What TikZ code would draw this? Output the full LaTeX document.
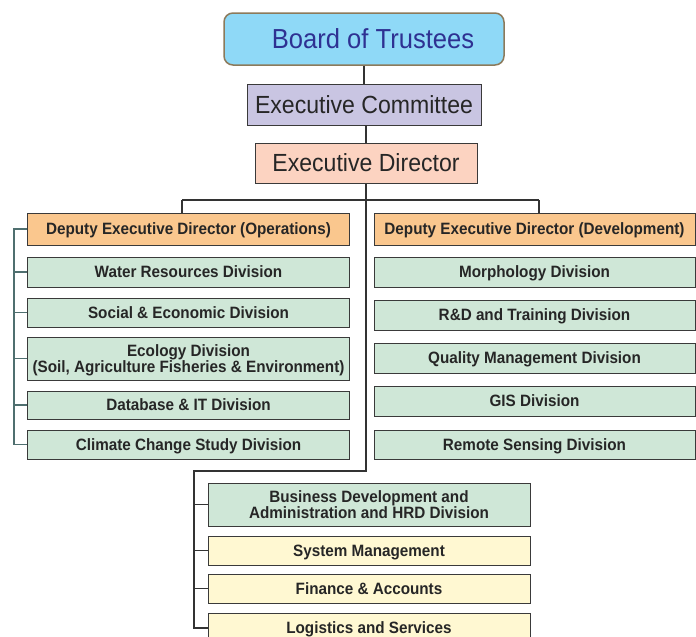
\documentclass[tikz,border=0pt]{standalone}
\usepackage{fontspec}
\setmainfont[FakeStretch=0.93]{Liberation Sans}
\definecolor{trusteefill}{HTML}{8FD9F7}
\definecolor{trusteeline}{HTML}{8C7A5B}
\definecolor{trusteetext}{HTML}{2E3192}
\definecolor{committeefill}{HTML}{C9C5E2}
\definecolor{directorfill}{HTML}{FCD3C1}
\definecolor{deputyfill}{HTML}{FAC78E}
\definecolor{divisionfill}{HTML}{CFE7D7}
\definecolor{servicefill}{HTML}{FFF8D2}
\definecolor{boxline}{HTML}{3A3A3A}
\definecolor{bracketline}{HTML}{4F6F6F}

\begin{document}
\begin{tikzpicture}[x=1pt, y=-1pt, line width=1pt,
		topbox/.style={draw=boxline, text=black!85, inner sep=0pt,
			text height=17.8pt, text depth=0pt, font=\fontsize{24.8}{27}\selectfont},
		unitbox/.style={draw=boxline, text=black!85, inner sep=0pt, align=center,
			text height=11.8pt, text depth=0pt,
			minimum width=322pt, font=\fontsize{16.4}{16.4}\selectfont\bfseries},
		twoline/.style={text height=28.2pt, minimum height=43pt},
		division/.style={unitbox, fill=divisionfill, minimum height=29pt},
		service/.style={unitbox, fill=servicefill, minimum height=29pt},
		deputy/.style={unitbox, fill=deputyfill, minimum height=32pt},
		trunk/.style={draw=black!80, line width=1.2pt},
		bracket/.style={draw=bracketline, line width=1.2pt}]
	\useasboundingbox (0,0) rectangle (696,637);

	% top of the chart
	\node[topbox, draw=trusteeline, line width=1.5pt, fill=trusteefill, text=trusteetext,
		rounded corners=9pt, minimum width=280pt, minimum height=52pt, text height=19.7pt,
		font=\fontsize{27.5}{30}\selectfont] (board) at (364, 39) {\hspace*{18pt}Board of Trustees};
	\node[topbox, fill=committeefill, minimum width=234pt, minimum height=41pt] (committee) at (364, 104.5) {Executive Committee};
	\node[topbox, fill=directorfill, minimum width=222pt, minimum height=40pt] (director) at (366, 163) {Executive Director};

	% operations
	\node[deputy] (operations) at (188.5, 229) {Deputy Executive Director (Operations)};
	\node[division, minimum height=30pt] (water) at (188.5, 272) {Water Resources Division};
	\node[division] (social) at (188.5, 312.5) {Social \& Economic Division};
	\node[division, twoline] (ecology) at (188.5, 358.5) {Ecology Division\\(Soil, Agriculture Fisheries \& Environment)};
	\node[division, minimum height=28pt] (database) at (188.5, 405) {Database \& IT Division};
	\node[division] (climate) at (188.5, 444.5) {Climate Change Study Division};

	% development
	\node[deputy, minimum width=321pt] (development) at (534.5, 229) {Deputy Executive Director (Development)};
	\node[division, minimum width=321pt, minimum height=30pt] (morphology) at (534.5, 272) {Morphology Division};
	\node[division, minimum width=321pt, minimum height=30pt] (training) at (534.5, 315) {R\&D and Training Division};
	\node[division, minimum width=321pt, minimum height=30pt] (quality) at (534.5, 358) {Quality Management Division};
	\node[division, minimum width=321pt, minimum height=30pt] (gis) at (534.5, 401) {GIS Division};
	\node[division, minimum width=321pt] (remote) at (534.5, 444.5) {Remote Sensing Division};

	% services
	\node[division, twoline] (business) at (369, 504.5) {Business Development and\\Administration and HRD Division};
	\node[service] (system) at (369, 550.5) {System Management};
	\node[service] (finance) at (369, 588.5) {Finance \& Accounts};
	\node[service, minimum height=30pt] (logistics) at (369, 628) {Logistics and Services};

	% connectors
	\coordinate (split) at (366, 200);
	\coordinate (leftend) at (182, 200);
	\coordinate (rightend) at (539, 200);
	\coordinate (turn) at (366, 471);
	\coordinate (bend) at (194, 471);

	\draw[trunk] (board.south) -- (committee.north);
	\draw[trunk] (committee.south) -- (committee.south -| director.north) -- (director.north);
	\draw[trunk] (director.south) -- (split);
	\draw[trunk] (leftend) -- (rightend);
	\draw[trunk] (leftend) -- (leftend |- operations.north);
	\draw[trunk] (rightend) -- (rightend |- development.north);
	\draw[trunk] (split) -- (turn) -- (bend) |- (logistics.west);
	\foreach \unit in {business, system, finance}
		\draw[trunk] (bend |- \unit.west) -- (\unit.west);

	\draw[bracket] (operations.west) -- ++(-13, 0) |- (climate.west);
	\foreach \unit in {water, social, ecology, database}
		\draw[bracket] (\unit.west) -- ++(-13, 0);
\end{tikzpicture}
\end{document}
